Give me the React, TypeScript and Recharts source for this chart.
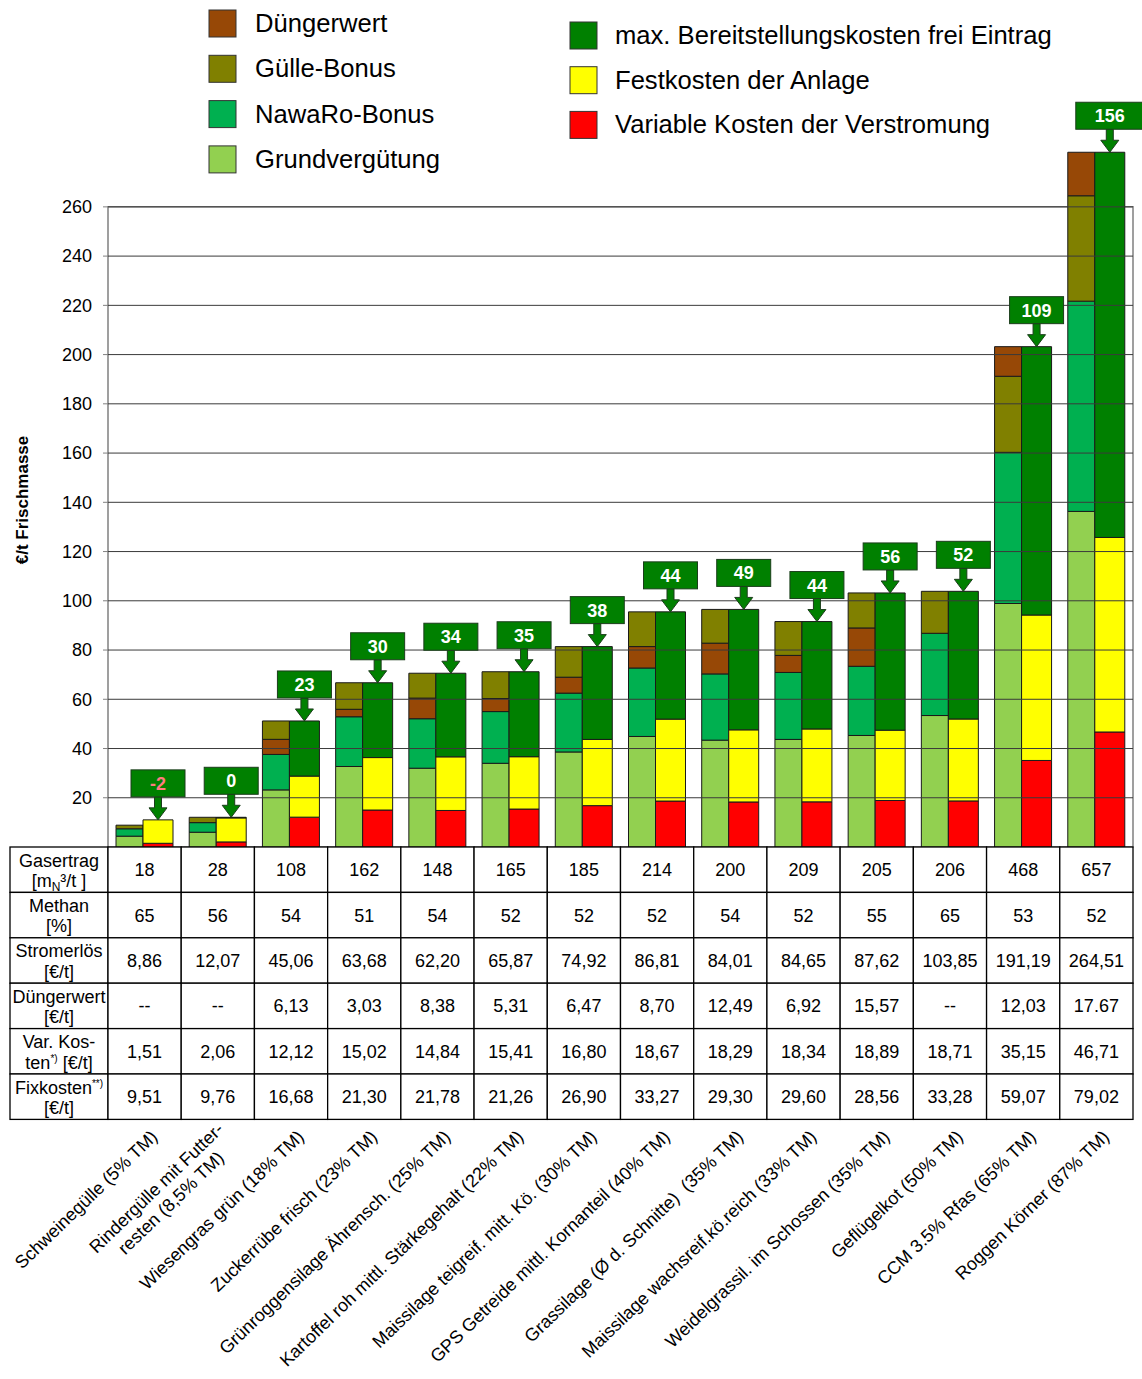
import React from 'react';
import { ComposedChart, Bar, XAxis, YAxis, LabelList, ReferenceArea, ReferenceLine } from 'recharts';

// ---------- data ----------
const categories = [
  'Schweinegülle (5% TM)',
  'Rindergülle mit Futter-\nresten (8,5% TM)',
  'Wiesengras grün (18% TM)',
  'Zuckerrübe frisch (23% TM)',
  'Grünroggensilage Ährensch. (25% TM)',
  'Kartoffel roh mittl. Stärkegehalt (22% TM)',
  'Maissilage teigreif. mitt. Kö. (30% TM)',
  'GPS Getreide mittl. Kornanteil (40% TM)',
  'Grassilage (Ø d. Schnitte)  (35% TM)',
  'Maissilage wachsreif.kö.reich (33% TM)',
  'Weidelgrassil. im Schossen (35% TM)',
  'Geflügelkot (50% TM)',
  'CCM 3.5% Rfas (65% TM)',
  'Roggen Körner (87% TM)',
];

// left stack (revenue)
const grundverguetung = [4.4, 6.0, 23.2, 32.7, 32.0, 34.0, 38.6, 44.9, 43.4, 43.7, 45.3, 53.4, 98.9, 136.3];
const nawaroBonus = [3.0, 3.9, 14.4, 20.2, 20.1, 21.0, 23.9, 27.8, 26.9, 27.2, 28.1, 33.4, 61.4, 85.4];
const duengerwertMid = [0, 0, 6.13, 3.03, 8.38, 5.31, 6.47, 8.7, 12.49, 6.92, 15.57, 0, 0, 0];
const guelleBonus = [1.46, 2.17, 7.46, 10.78, 10.1, 10.87, 12.42, 14.11, 13.71, 13.75, 14.22, 17.05, 30.89, 42.81];
const duengerwertTop = [0, 0, 0, 0, 0, 0, 0, 0, 0, 0, 0, 0, 12.03, 17.67];

// right stack (costs)
const variableKosten = [1.51, 2.06, 12.12, 15.02, 14.84, 15.41, 16.8, 18.67, 18.29, 18.34, 18.89, 18.71, 35.15, 46.71];
const festkosten = [9.51, 9.76, 16.68, 21.3, 21.78, 21.26, 26.9, 33.27, 29.3, 29.6, 28.56, 33.28, 59.07, 79.02];
const maxBereitstellung = [0, 0.25, 22.39, 30.39, 33.96, 34.51, 37.69, 43.57, 48.91, 43.63, 55.74, 51.86, 109.0, 156.45];
const maxLabels = [-2, 0, 23, 30, 34, 35, 38, 44, 49, 44, 56, 52, 109, 156];

// table rows
const gasertrag = ['18', '28', '108', '162', '148', '165', '185', '214', '200', '209', '205', '206', '468', '657'];
const methan = ['65', '56', '54', '51', '54', '52', '52', '52', '54', '52', '55', '65', '53', '52'];
const stromerloes = ['8,86', '12,07', '45,06', '63,68', '62,20', '65,87', '74,92', '86,81', '84,01', '84,65', '87,62', '103,85', '191,19', '264,51'];
const duengerwertTxt = ['--', '--', '6,13', '3,03', '8,38', '5,31', '6,47', '8,70', '12,49', '6,92', '15,57', '--', '12,03', '17.67'];
const varKostenTxt = ['1,51', '2,06', '12,12', '15,02', '14,84', '15,41', '16,80', '18,67', '18,29', '18,34', '18,89', '18,71', '35,15', '46,71'];
const fixKostenTxt = ['9,51', '9,76', '16,68', '21,30', '21,78', '21,26', '26,90', '33,27', '29,30', '29,60', '28,56', '33,28', '59,07', '79,02'];
const tableRows = [gasertrag, methan, stromerloes, duengerwertTxt, varKostenTxt, fixKostenTxt];

const yTicks = [20, 40, 60, 80, 100, 120, 140, 160, 180, 200, 220, 240, 260];

const COLORS = {
  duenger: '#974806',
  guelle: '#808000',
  nawaro: '#00B050',
  grund: '#92D050',
  max: '#008000',
  fest: '#FFFF00',
  var: '#FF0000',
};

const legendLeft = [
  { name: 'Düngerwert', color: COLORS.duenger },
  { name: 'Gülle-Bonus', color: COLORS.guelle },
  { name: 'NawaRo-Bonus', color: COLORS.nawaro },
  { name: 'Grundvergütung', color: COLORS.grund },
];
const legendRight = [
  { name: 'max. Bereitstellungskosten frei Eintrag', color: COLORS.max },
  { name: 'Festkosten der Anlage', color: COLORS.fest },
  { name: 'Variable Kosten der Verstromung', color: COLORS.var },
];

const data = categories.map((name, i) => ({
  name,
  grund: grundverguetung[i],
  nawaro: nawaroBonus[i],
  duengerMid: duengerwertMid[i],
  guelle: guelleBonus[i],
  duengerTop: duengerwertTop[i],
  var: variableKosten[i],
  fest: festkosten[i],
  max: maxBereitstellung[i],
  label: maxLabels[i],
}));

// ---------- layout ----------
const W = 1142;
const H = 1379;
const PLOT_LEFT = 108;
const PLOT_RIGHT = 1133;
const COLW = (PLOT_RIGHT - PLOT_LEFT) / categories.length;
const ROWH = 45.4;
const FONT = 'Arial, "Liberation Sans", sans-serif';
const LARGEST_LABEL = Math.max(...maxLabels);

let measureCtx: CanvasRenderingContext2D | null = null;
function measure(text: string, font: string) {
  if (!measureCtx) {
    const c = document.createElement('canvas');
    measureCtx = c.getContext('2d');
  }
  if (!measureCtx) return text.length * 9;
  measureCtx.font = font;
  return measureCtx.measureText(text).width;
}

function HeaderCell({ x, y, w, row }: { x: number; y: number; w: number; row: number }) {
  const cx = x + w / 2;
  const l1 = y + 19.5;
  const l2 = y + 40;
  const fs = 18;
  let content: React.ReactNode = null;
  switch (row) {
    case 0:
      content = (
        <>
          <text x={cx} y={l1} textAnchor="middle" fontSize={fs}>Gasertrag</text>
          <text x={cx} y={l2} textAnchor="middle" fontSize={fs}>
            [m<tspan fontSize={12} dy={4}>N</tspan><tspan dy={-4}>³/t ]</tspan>
          </text>
        </>
      );
      break;
    case 1:
      content = (
        <>
          <text x={cx} y={l1} textAnchor="middle" fontSize={fs}>Methan</text>
          <text x={cx} y={l2} textAnchor="middle" fontSize={fs}>[%]</text>
        </>
      );
      break;
    case 2:
      content = (
        <>
          <text x={cx} y={l1} textAnchor="middle" fontSize={fs}>Stromerlös</text>
          <text x={cx} y={l2} textAnchor="middle" fontSize={fs}>[€/t]</text>
        </>
      );
      break;
    case 3:
      content = (
        <>
          <text x={cx} y={l1} textAnchor="middle" fontSize={fs}>Düngerwert</text>
          <text x={cx} y={l2} textAnchor="middle" fontSize={fs}>[€/t]</text>
        </>
      );
      break;
    case 4:
      content = (
        <>
          <text x={cx} y={l1} textAnchor="middle" fontSize={fs}>Var. Kos-</text>
          <text x={cx} y={l2} textAnchor="middle" fontSize={fs}>
            ten<tspan fontSize={10} dy={-7}>*)</tspan><tspan dy={7}> [€/t]</tspan>
          </text>
        </>
      );
      break;
    default:
      content = (
        <>
          <text x={cx} y={l1} textAnchor="middle" fontSize={fs}>
            Fixkosten<tspan fontSize={10} dy={-7}>**)</tspan>
          </text>
          <text x={cx} y={l2} textAnchor="middle" fontSize={fs}>[€/t]</text>
        </>
      );
  }
  return (
    <g>
      <rect x={x} y={y} width={w} height={ROWH} fill="#fff" stroke="#000" strokeWidth={1.3} />
      {content}
    </g>
  );
}

function TableTick(props: any) {
  const { x, y, index } = props;
  const i: number = index;
  const cx = x;
  const left = cx - COLW / 2;
  const top = y;
  const label: string = categories[i] || '';
  const lines = label.split('\n');
  const lblFont = `18px ${FONT}`;
  const widths = lines.map((l) => measure(l, lblFont));
  const maxW = Math.max(...widths);
  const lineH = 21;
  return (
    <g fontFamily={FONT} fill="#000">
      {i === 0 &&
        tableRows.map((_, r) => (
          <HeaderCell key={`h${r}`} x={10} y={top + r * ROWH} w={left - 10} row={r} />
        ))}
      {tableRows.map((row, r) => (
        <g key={r}>
          <rect x={left} y={top + r * ROWH} width={COLW} height={ROWH} fill="#fff" stroke="#000" strokeWidth={1.3} />
          <text x={cx} y={top + r * ROWH + ROWH / 2 + 6.5} textAnchor="middle" fontSize={18}>
            {row[i]}
          </text>
        </g>
      ))}
      <g transform={`translate(${cx + 14}, ${top + 291}) rotate(-44)`}>
        {lines.map((l, k) => (
          <text
            key={k}
            x={-(maxW - widths[k]) / 2}
            y={(k - (lines.length - 1) / 2) * lineH}
            textAnchor="end"
            fontSize={18}
            style={{ whiteSpace: 'pre' }}
          >
            {l}
          </text>
        ))}
      </g>
    </g>
  );
}

function drawArrowLabel(props: any) {
  const { x, y, width, value } = props;
  if (x == null || y == null) return null;
  const cx = x + width / 2;
  const boxW = Number(value) === LARGEST_LABEL ? 68 : 54;
  const boxH = 27;
  const gap = 23;
  const boxTop = y - gap - boxH;
  const headTop = y - 12;
  const neg = Number(value) < 0;
  const arrow = [
    [cx - 3.5, y - gap],
    [cx + 3.5, y - gap],
    [cx + 3.5, headTop],
    [cx + 9, headTop],
    [cx, y],
    [cx - 9, headTop],
    [cx - 3.5, headTop],
  ]
    .map((p) => p.join(','))
    .join(' ');
  return (
    <g>
      <polygon points={arrow} fill={COLORS.max} stroke="#1b3d1b" strokeWidth={1} />
      <rect x={cx - boxW / 2} y={boxTop} width={boxW} height={boxH} fill={COLORS.max} stroke="#1b3d1b" strokeWidth={1} />
      <text
        x={cx}
        y={boxTop + 20}
        textAnchor="middle"
        fontFamily={FONT}
        fontWeight="bold"
        fontSize={18}
        fill={neg ? '#FF7C80' : '#FFFFFF'}
      >
        {value}
      </text>
    </g>
  );
}

// label on top of the green bar (non-negative result)
function MaxLabel(props: any) {
  if (Number(props.value) < 0) return null;
  return drawArrowLabel(props);
}
// label on top of the yellow bar when the result is negative (no green bar)
function FestLabel(props: any) {
  if (!(Number(props.value) < 0)) return null;
  return drawArrowLabel(props);
}

function Overlay() {
  return (
    <svg
      width={W}
      height={H}
      style={{ position: 'absolute', left: 0, top: 0, pointerEvents: 'none' }}
      fontFamily={FONT}
    >
      {legendLeft.map((it, k) => (
        <g key={it.name}>
          <rect x={209} y={10 + k * 45.3} width={27} height={27} fill={it.color} stroke="#333" strokeWidth={1} />
          <text x={255} y={10 + k * 45.3 + 22} fontSize={25.6} fill="#000">
            {it.name}
          </text>
        </g>
      ))}
      {legendRight.map((it, k) => (
        <g key={it.name}>
          <rect x={570} y={22 + k * 44.7} width={27} height={27} fill={it.color} stroke="#333" strokeWidth={1} />
          <text x={615} y={22 + k * 44.7 + 22} fontSize={25.6} fill="#000">
            {it.name}
          </text>
        </g>
      ))}
      <text
        transform="translate(28, 500) rotate(-90)"
        textAnchor="middle"
        fontSize={17}
        fontWeight="bold"
        fill="#000"
      >
        €/t Frischmasse
      </text>
    </svg>
  );
}

export default function App() {
  const barStroke = '#1a1a1a';
  return (
    <div style={{ position: 'absolute', left: 0, top: 0, width: W, height: H, background: '#fff' }}>
      <ComposedChart
        width={W}
        height={H}
        data={data}
        margin={{ top: 133, right: W - PLOT_RIGHT, bottom: 0, left: 0 }}
        barGap={0}
      >
        <XAxis
          dataKey="name"
          height={H - 847}
          interval={0}
          tickLine={false}
          axisLine={false}
          tickSize={0}
          tickMargin={0}
          tick={<TableTick />}
        />
        <YAxis
          width={PLOT_LEFT}
          domain={[0, 290]}
          ticks={yTicks}
          axisLine={false}
          tickLine={{ stroke: '#808080' }}
          tickSize={5}
          tickMargin={11}
          tick={{ fontSize: 18, fill: '#000', fontFamily: FONT }}
        />
        <ReferenceArea
          x1={categories[0]}
          x2={categories[categories.length - 1]}
          y1={0}
          y2={260}
          fill="none"
          stroke="#808080"
          strokeWidth={1.5}
          ifOverflow="visible"
        />
        {yTicks.map((v) => (
          <ReferenceLine key={v} y={v} stroke="#3a3a3a" strokeWidth={1} />
        ))}
        <Bar dataKey="grund" stackId="L" barSize={27} fill={COLORS.grund} stroke={barStroke} isAnimationActive={false} />
        <Bar dataKey="nawaro" stackId="L" barSize={27} fill={COLORS.nawaro} stroke={barStroke} isAnimationActive={false} />
        <Bar dataKey="duengerMid" stackId="L" barSize={27} fill={COLORS.duenger} stroke={barStroke} isAnimationActive={false} />
        <Bar dataKey="guelle" stackId="L" barSize={27} fill={COLORS.guelle} stroke={barStroke} isAnimationActive={false} />
        <Bar dataKey="duengerTop" stackId="L" barSize={27} fill={COLORS.duenger} stroke={barStroke} isAnimationActive={false} />
        <Bar dataKey="var" stackId="R" barSize={30} fill={COLORS.var} stroke={barStroke} isAnimationActive={false} />
        <Bar dataKey="fest" stackId="R" barSize={30} fill={COLORS.fest} stroke={barStroke} isAnimationActive={false}>
          <LabelList dataKey="label" content={<FestLabel />} />
        </Bar>
        <Bar dataKey="max" stackId="R" barSize={30} fill={COLORS.max} stroke={barStroke} isAnimationActive={false}>
          <LabelList dataKey="label" content={<MaxLabel />} />
        </Bar>
      </ComposedChart>
      <Overlay />
    </div>
  );
}
